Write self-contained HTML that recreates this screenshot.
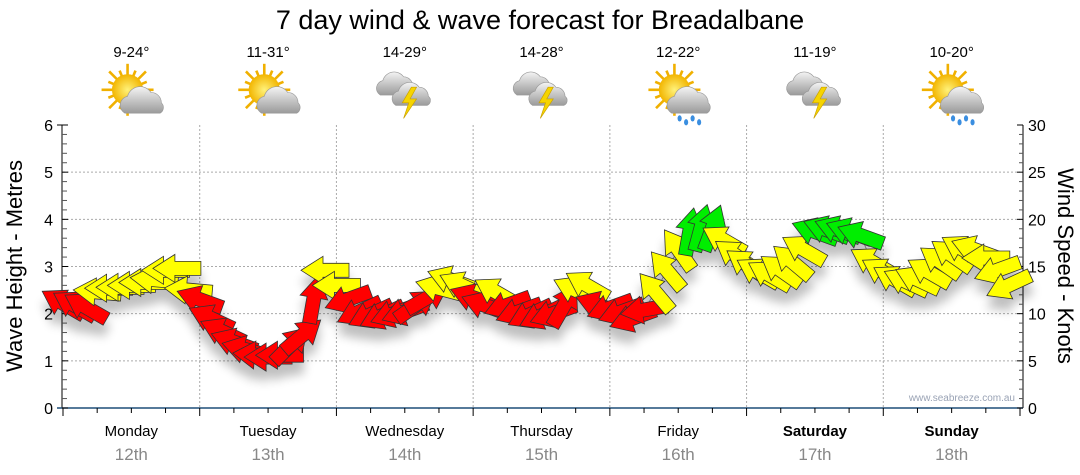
<!DOCTYPE html>
<html><head><meta charset="utf-8"><style>
html,body{margin:0;padding:0;background:#fff;}
svg{display:block;font-family:"Liberation Sans",Verdana,sans-serif;}
</style></head><body>
<svg id="chart" width="1080" height="475" viewBox="0 0 1080 475">
<defs>
<filter id="shadow" x="-50%" y="-50%" width="200%" height="250%">
<feGaussianBlur in="SourceAlpha" stdDeviation="5"/>
<feOffset dx="0" dy="12" result="b"/>
<feComponentTransfer><feFuncA type="linear" slope="0.25"/></feComponentTransfer>
<feMerge><feMergeNode/><feMergeNode in="SourceGraphic"/></feMerge>
</filter>
<radialGradient id="sunG" cx="0.5" cy="0.5" r="0.5"><stop offset="0" stop-color="#fff27a"/><stop offset="1" stop-color="#f2b500"/></radialGradient>
<linearGradient id="cloudG" x1="0" y1="0" x2="0" y2="1"><stop offset="0" stop-color="#f4f4f4"/><stop offset="1" stop-color="#9a9a9a"/></linearGradient>
</defs>
<text x="540" y="29" text-anchor="middle" font-size="27" fill="#000">7 day wind &amp; wave forecast for Breadalbane</text>
<g id="grid"></g>
<g id="axes"></g>
<g id="header"></g>
<polyline id="windline" fill="none" stroke="#999" stroke-width="1"/>
<g id="arrows" filter="url(#shadow)"></g>
<text x="1015" y="401" text-anchor="end" font-size="10" fill="#9aa3b5">www.seabreeze.com.au</text>
<text transform="translate(22,266) rotate(-90)" text-anchor="middle" font-size="22" fill="#000">Wave Height - Metres</text>
<text transform="translate(1058,266) rotate(90)" text-anchor="middle" font-size="22" fill="#000">Wind Speed - Knots</text>
</svg>
<script>
const days = ["Monday","Tuesday","Wednesday","Thursday","Friday","Saturday","Sunday"];
const dates = ["12th","13th","14th","15th","16th","17th","18th"];
const temps = ["9-24°","11-31°","14-29°","14-28°","12-22°","11-19°","10-20°"];
const icons = ["suncloud","suncloud","storm","storm","sunrain","storm","sunrain"];
const boldDays = [false,false,false,false,false,true,true];
const waveTicks = [0,1,2,3,4,5,6];
const windTicks = [0,5,10,15,20,25,30];
// wind every 2 hours from Monday 00:00
const windSpeed = [11.1,10.9,10.7,12.3,12.7,12.8,13.0,13.3,13.6,14.6,14.8,12.5,
11.5,9.5,8.1,7.0,6.2,5.6,5.4,5.6,6.7,7.7,11.5,14.6,
13.0,11.5,10.2,9.9,9.8,10.0,10.2,10.9,11.7,12.7,13.6,13.0,
11.7,10.9,12.3,10.9,10.2,9.9,9.8,10.0,10.9,12.5,13.0,10.9,
10.6,10.2,9.5,10.4,12.3,14.6,16.8,18.7,19.1,19.1,17.8,16.2,
15.2,14.4,14.1,14.6,15.5,16.8,18.7,18.9,18.9,18.7,18.3,15.5,
14.4,13.6,13.4,13.6,14.4,15.5,16.2,16.8,16.8,15.9,14.6,13.0];
// bearing the arrow points to (0 = up, 90 = right, 270 = left)
const windDir = [300,300,300,275,270,270,270,270,275,270,270,275,
290,295,295,290,285,275,270,270,45,50,10,270,
270,250,245,245,245,250,250,55,60,285,290,295,
290,290,300,250,250,245,245,250,30,295,300,290,
250,250,250,260,320,320,325,10,15,20,300,305,
305,300,300,305,310,300,290,290,290,290,290,300,
300,300,295,295,300,305,305,300,290,270,250,245];

const NS="http://www.w3.org/2000/svg";
const X0=63, X1=1020, YT=125, YB=408;
const dayW=(X1-X0)/7;
function xHour(h){return X0+h*dayW/24;}
function yWave(m){return YB-(m/6)*(YB-YT);}
function yKnot(k){return YB-(k/30)*(YB-YT);}
function mk(tag,attrs,parent){const e=document.createElementNS(NS,tag);for(const k in attrs)e.setAttribute(k,attrs[k]);parent.appendChild(e);return e;}
const grid=document.getElementById('grid'), axes=document.getElementById('axes'), header=document.getElementById('header'), arrows=document.getElementById('arrows');

waveTicks.forEach(v=>{ if(v>0&&v<6){const l=mk('line',{x1:X0,x2:X1,y1:yWave(v),y2:yWave(v),stroke:'#aaa','stroke-dasharray':'2,2'},grid);

}});
for(let d=1;d<7;d++){const l=mk('line',{x1:xHour(d*24),x2:xHour(d*24),y1:YT,y2:YB,stroke:'#aaa','stroke-dasharray':'2,2'},grid);

}

mk('line',{x1:X0-1,x2:X0-1,y1:YT,y2:YB,stroke:'#000'},axes);
mk('line',{x1:X1+3,x2:X1+3,y1:YT,y2:YB,stroke:'#000'},axes);
mk('line',{x1:X0-6,x2:X1+3,y1:YB,y2:YB,stroke:'#1f4e79','stroke-width':1.5},axes);
for(let i=0;i<=30;i++){const y=yKnot(i);const maj=i%5==0;
 mk('line',{x1:X0-1,x2:X0+(maj?5:4),y1:y,y2:y,stroke:maj?'#000':'#555'},axes);
 mk('line',{x1:X1+3,x2:X1+3-(maj?6:4),y1:y,y2:y,stroke:maj?'#000':'#555'},axes);}
mk('line',{x1:X0-6,x2:X0-1,y1:YT,y2:YT,stroke:'#000'},axes);
waveTicks.forEach(v=>{const t=mk('text',{x:X0-10,y:yWave(v)+6,'text-anchor':'end','font-size':16,fill:'#000'},axes);t.textContent=v;

});
windTicks.forEach(v=>{const t=mk('text',{x:X1+8,y:yKnot(v)+6,'font-size':16,fill:'#000'},axes);t.textContent=v;

});
for(let h=0;h<=168;h+=6){const x=xHour(h);const maj=h%24==0;
 mk('line',{x1:x,x2:x,y1:YB,y2:YB+(maj?8:5),stroke:'#000'},axes);}

function icon(g,type,cx,cy){
 if(type!=='storm'){
  const s=cx-6, sy=cy-4;
  for(let a=0;a<16;a++){const r=a*Math.PI/8;mk('line',{x1:s+Math.cos(r)*10,y1:sy+Math.sin(r)*10,x2:s+Math.cos(r)*(a%2?16:20),y2:sy+Math.sin(r)*(a%2?16:20),stroke:'#f0b000','stroke-width':2},g);}
  mk('circle',{cx:s,cy:sy,r:12,fill:'url(#sunG)'},g);
  mk('path',{d:`M${cx-8} ${cy+14} a7 7 0 0 1 2-13 a10 10 0 0 1 18-3 a8 8 0 0 1 8 8 a5 5 0 0 1 -1 8 z`,fill:'url(#cloudG)',stroke:'#999','stroke-width':0.5},g);
  if(type==='sunrain'){for(let i=0;i<4;i++)mk('ellipse',{cx:cx-2+i*5,cy:cy+18+(i%2)*3,rx:1.6,ry:2.4,fill:'#3a8ee0'},g);}
 } else {
  mk('path',{d:`M${cx-22} ${cy} a6 6 0 0 1 2-11 a9 9 0 0 1 16-3 a7 7 0 0 1 7 7 a4 4 0 0 1 -1 7 z`,fill:'url(#cloudG)',stroke:'#999','stroke-width':0.5},g);
  mk('path',{d:`M${cx-10} ${cy+8} a6 6 0 0 1 2-11 a9 9 0 0 1 16-3 a7 7 0 0 1 7 7 a4 4 0 0 1 -1 7 z`,fill:'url(#cloudG)',stroke:'#999','stroke-width':0.5},g);
  mk('path',{d:`M${cx+2} ${cy-6} l-7 12 h5 l-4 12 l10 -15 h-5 l5 -9 z`,fill:'#f6d400',stroke:'#c9a000','stroke-width':0.5},g);
 }
}
for(let d=0;d<7;d++){const cx=xHour(d*24+12);
 const n=mk('text',{x:cx,y:436,'text-anchor':'middle','font-size':15,fill:'#000','font-weight':boldDays[d]?'bold':'normal'},axes);n.textContent=days[d];
 
 
 const dt=mk('text',{x:cx,y:460,'text-anchor':'middle','font-size':17,fill:'#888'},axes);dt.textContent=dates[d];
 
 
 const t=mk('text',{x:cx,y:57,'text-anchor':'middle','font-size':15,fill:'#000'},header);t.textContent=temps[d];
 
 
 const g=mk('g',{transform:`translate(${cx+4},95) scale(1.3) translate(${-(cx+4)},-95)`},header);
 
 
 icon(g,icons[d],cx+4,95);
}

const pts=[];
windSpeed.forEach((k,i)=>{pts.push(xHour(i*2).toFixed(1)+','+yKnot(k).toFixed(1));});
document.getElementById('windline').setAttribute('points',pts.join(' '));
windSpeed.forEach((k,i)=>{
 const x=xHour(i*2), y=yKnot(k);
 const col=k>=18?'#00ee00':(k>=12?'#ffff00':'#ff0000');
 const rot=windDir[i]-90;
 const p=mk('polygon',{points:'-24,-7 2,-7 2,-14 24,0 2,14 2,7 -24,7',fill:col,stroke:'#333','stroke-width':0.8,transform:`translate(${x.toFixed(1)},${y.toFixed(1)}) rotate(${rot})`},arrows);
 
 
});
</script>
</body></html>
